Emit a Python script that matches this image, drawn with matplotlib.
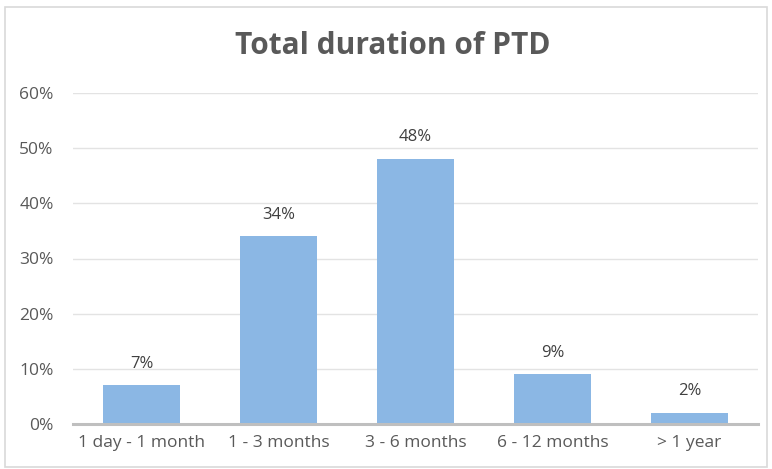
import matplotlib
matplotlib.use("Agg")
import matplotlib.pyplot as plt
from matplotlib.patches import Rectangle
from matplotlib.ticker import FuncFormatter

# data
categories = ['1 day - 1 month', '1 - 3 months', '3 - 6 months', '6 - 12 months', '> 1 year']
values = [7, 34, 48, 9, 2]
yticks = [0, 10, 20, 30, 40, 50, 60]

plt.rcParams['font.family'] = ['Open Sans', 'DejaVu Sans']

fig = plt.figure(figsize=(7.72, 4.69), dpi=100)
# outer chart border
fig.patches.append(Rectangle((5 / 772, 2 / 469), 762 / 772, 460 / 469, transform=fig.transFigure,
                             fill=False, edgecolor='#d9d9d9', linewidth=1.2))

ax = fig.add_axes([73 / 772, 1 - 424 / 469, 685 / 772, 331 / 469])
x = range(len(categories))
bars = ax.bar(x, values, width=0.555, color='#8bb7e4', zorder=3)

for b, v in zip(bars, values):
    ax.text(b.get_x() + b.get_width() / 2, v + 2.5, f'{v}%', ha='center', va='bottom',
            fontsize=12, color='#404040')

ax.set_xlim(-0.5, len(categories) - 0.5)
ax.set_ylim(0, 60)
ax.set_yticks(yticks)
ax.yaxis.set_major_formatter(FuncFormatter(lambda v, p: f'{int(v)}%'))
ax.set_xticks(list(x))
ax.set_xticklabels(categories)
ax.tick_params(length=0, labelsize=12.5, labelcolor='#595959')
ax.tick_params(axis='x', pad=8)
ax.tick_params(axis='y', pad=14)
ax.grid(axis='y', color='#e3e3e3', linewidth=1, zorder=0)
for s in ['top', 'right', 'left']:
    ax.spines[s].set_visible(False)
ax.spines['bottom'].set_color('#bfbfbf')
ax.spines['bottom'].set_linewidth(2.2)
ax.spines['bottom'].set_zorder(4)

fig.text(393 / 772, 1 - 46 / 469, 'Total duration of PTD', ha='center', va='center',
         fontsize=21.5, fontweight='bold', color='#595959')

fig.savefig('out.png', dpi=100)
